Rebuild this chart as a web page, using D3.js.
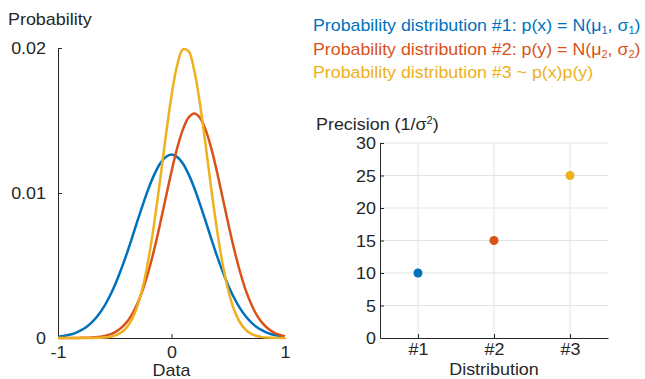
<!DOCTYPE html>
<html>
<head>
<meta charset="utf-8">
<script src="https://cdn.jsdelivr.net/npm/d3@7"></script>
<style>
  body { margin: 0; background: #fff; }
  svg { display: block; }
  text { font-family: 'Liberation Sans', Arial, sans-serif; fill: #262626; }
</style>
</head>
<body>
<svg id="chart" width="645" height="379"></svg>
<script>
// sample positions along the data axis
const dataX = [-1, -0.95, -0.9, -0.85, -0.8, -0.75, -0.7, -0.65, -0.6, -0.55, -0.5, -0.45, -0.4, -0.35, -0.3, -0.25, -0.2, -0.15, -0.1, -0.05,
  0, 0.05, 0.1, 0.15, 0.2, 0.25, 0.3, 0.35, 0.4, 0.45, 0.5, 0.55, 0.6, 0.65, 0.7, 0.75, 0.8, 0.85, 0.9, 0.95, 1];

// probability
const probDist1 = [0.00009, 0.00014, 0.00022, 0.00034, 0.00052, 0.00076, 0.00109, 0.00153, 0.00209, 0.00279, 0.00362, 0.00460, 0.00568, 0.00686, 0.00807, 0.00925, 0.01036, 0.01130, 0.01203, 0.01249,
  0.01265, 0.01249, 0.01203, 0.01130, 0.01036, 0.00925, 0.00807, 0.00686, 0.00568, 0.00460, 0.00362, 0.00279, 0.00209, 0.00153, 0.00109, 0.00076, 0.00052, 0.00034, 0.00022, 0.00014, 0.00009];
const probDist2 = [0, 0, 0, 0, 0.00001, 0.00002, 0.00004, 0.00007, 0.00013, 0.00023, 0.00039, 0.00065, 0.00104, 0.00160, 0.00238, 0.00339, 0.00467, 0.00618, 0.00789, 0.00969,
  0.01148, 0.01309, 0.01437, 0.01520, 0.01549, 0.01520, 0.01437, 0.01309, 0.01148, 0.00969, 0.00789, 0.00618, 0.00467, 0.00339, 0.00238, 0.00160, 0.00104, 0.00065, 0.00039, 0.00023, 0.00013];
const probDist3 = [0, 0, 0, 0, 0, 0, 0, 0.00001, 0.00003, 0.00007, 0.00016, 0.00034, 0.00068, 0.00126, 0.00221, 0.00361, 0.00556, 0.00804, 0.01092, 0.01394,
  0.01671, 0.01881, 0.01990, 0.01978, 0.01846, 0.01619, 0.01334, 0.01032, 0.00751, 0.00513, 0.00329, 0.00198, 0.00112, 0.00060, 0.00030, 0.00014, 0.00006, 0.00003, 0.00001, 0, 0];

const probTicks = [0, 0.01, 0.02];
const dataTicks = [-1, 0, 1];

// right panel
const distLabels = ['#1', '#2', '#3'];
const precision = [10, 15, 25];
const precisionTicks = [0, 5, 10, 15, 20, 25, 30];

const colors = ['#0072BD', '#D95319', '#EDB120'];
const SX = 1.12;         // text in the picture is a bit wider than plain Arial
const FS = 16;
const AXIS = '#262626';

const svg = d3.select('#chart');

function label(g, x, y, txt, anchor, sx) {
    return g.append('text')
        .attr('transform', `translate(${x},${y}) scale(${sx || SX},1)`)
        .attr('text-anchor', anchor || 'start')
        .style('font-size', FS + 'px')
        .text(txt);
}

function styleAxis(sel) {
    sel.select('.domain').attr('stroke', AXIS).attr('stroke-width', 1);
    sel.selectAll('.tick line').attr('stroke', AXIS).attr('stroke-width', 1);
    sel.selectAll('.tick text')
        .style('font-size', FS + 'px')
        .attr('font-family', null)
        .attr('fill', AXIS);
}

// ---------- left panel: curves ----------
const xL = d3.scaleLinear().domain([-1, 1]).range([58, 285]);
const yL = d3.scaleLinear().domain([0, 0.02]).range([338, 48]);

const left = svg.append('g');

const yAxisL = left.append('g')
    .attr('transform', `translate(${xL(-1)},0)`)
    .call(d3.axisLeft(yL).tickValues(probTicks).tickSize(-4).tickSizeOuter(0)
        .tickFormat(d => d === 0 ? '0' : d3.format('.2f')(d)));
styleAxis(yAxisL);
yAxisL.selectAll('.tick text')
    .attr('x', null).attr('dy', null)
    .attr('transform', `translate(-12,5.5) scale(${SX},1)`);

const xAxisL = left.append('g')
    .attr('transform', `translate(0,${yL(0)})`)
    .call(d3.axisBottom(xL).tickValues(dataTicks).tickSize(-4).tickSizeOuter(0)
        .tickFormat(d => String(d)));
styleAxis(xAxisL);
xAxisL.selectAll('.tick text')
    .attr('y', null).attr('dy', null)
    .attr('transform', `translate(0,19.5) scale(${SX},1)`);
// the -1 and 1 ticks sit on the axis ends; only the inner tick shows
xAxisL.selectAll('.tick line').filter(d => d !== 0).remove();
yAxisL.selectAll('.tick line').filter(d => d === 0).remove();

const line = d3.line()
    .x((d, i) => xL(dataX[i]))
    .y(d => yL(d))
    .curve(d3.curveCatmullRom.alpha(0.5));

[probDist1, probDist2, probDist3].forEach((series, k) => {
    left.append('path')
        .datum(series)
        .attr('fill', 'none')
        .attr('stroke', colors[k])
        .attr('stroke-width', 2.5)
        .attr('stroke-linejoin', 'round')
        .attr('d', line);
});

label(left, 8, 25, 'Probability');
label(left, xL(0), 375.5, 'Data', 'middle');

// ---------- legend ----------
const legend = svg.append('g');
const legendRows = [
    [['Probability distribution #1: p(x) = N(μ'], ['1', 'sub'], [', σ'], ['1', 'sub'], [')']],
    [['Probability distribution #2: p(y) = N(μ'], ['2', 'sub'], [', σ'], ['2', 'sub'], [')']],
    [['Probability distribution #3 ~ p(x)p(y)']]
];
legendRows.forEach((parts, k) => {
    const t = label(legend, 313, 34 + k * 23.5, '', 'start', 1.112).style('fill', colors[k]);
    parts.forEach(([s, kind]) => {
        if (kind === 'sub') {
            t.append('tspan').attr('dy', 3).style('font-size', '10px').text(s);
        } else {
            t.append('tspan').attr('dy', t.selectAll('tspan').size() ? -3 : 0).text(s);
        }
    });
});

// ---------- right panel: precision ----------
const xR = d3.scaleLinear().domain([0.5, 3.5]).range([380, 608]);
const yR = d3.scaleLinear().domain([0, 30]).range([338, 143]);

const right = svg.append('g');

right.append('g').selectAll('line.h')
    .data(precisionTicks.slice(1))
    .join('line')
    .attr('x1', xR(0.5)).attr('x2', xR(3.5))
    .attr('y1', d => yR(d)).attr('y2', d => yR(d))
    .attr('stroke', '#e3e3e3').attr('stroke-width', 1);
right.append('g').selectAll('line.v')
    .data([1, 2, 3])
    .join('line')
    .attr('x1', d => xR(d)).attr('x2', d => xR(d))
    .attr('y1', yR(0)).attr('y2', yR(30))
    .attr('stroke', '#e3e3e3').attr('stroke-width', 1);

const yAxisR = right.append('g')
    .attr('transform', `translate(${xR(0.5)},0)`)
    .call(d3.axisLeft(yR).tickValues(precisionTicks).tickSize(-4).tickSizeOuter(0));
styleAxis(yAxisR);
yAxisR.selectAll('.tick text')
    .attr('x', null).attr('dy', null)
    .attr('transform', `translate(-4,5.5) scale(${SX},1)`);
yAxisR.selectAll('.tick line').filter(d => d === 0).remove();

const xAxisR = right.append('g')
    .attr('transform', `translate(0,${yR(0)})`)
    .call(d3.axisBottom(xR).tickValues([1, 2, 3]).tickSize(-4).tickSizeOuter(0)
        .tickFormat((d, i) => distLabels[i]));
styleAxis(xAxisR);
xAxisR.selectAll('.tick text')
    .attr('y', null).attr('dy', null)
    .attr('transform', `translate(0,17) scale(${SX},1)`);

right.append('g').selectAll('circle')
    .data(precision)
    .join('circle')
    .attr('cx', (d, i) => xR(i + 1))
    .attr('cy', d => yR(d))
    .attr('r', 4.5)
    .attr('fill', (d, i) => colors[i]);

const pl = label(right, 316, 130, 'Precision (1/σ');
pl.append('tspan').attr('dy', -6).style('font-size', '10px').text('2');
pl.append('tspan').attr('dy', 6).text(')');

label(right, xR(2), 375, 'Distribution', 'middle');
</script>
</body>
</html>
